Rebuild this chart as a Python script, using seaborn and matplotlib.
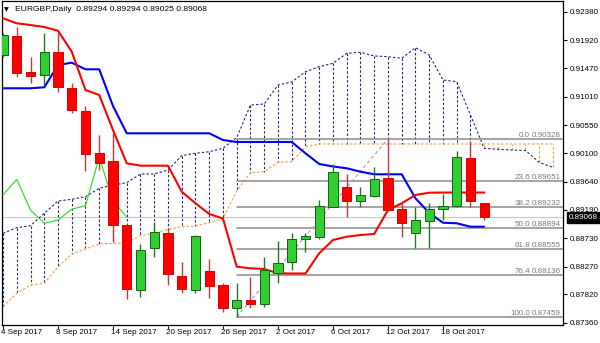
import numpy as np
import pandas as pd
import matplotlib
matplotlib.use("Agg")
import matplotlib.pyplot as plt
import seaborn as sns
from matplotlib.transforms import blended_transform_factory

# ---------------- data ----------------
tick_idx = [0, 4, 8, 12, 16, 20, 24, 28, 32]
tick_labels = ["4 Sep 2017", "8 Sep 2017", "14 Sep 2017", "20 Sep 2017", "26 Sep 2017",
               "2 Oct 2017", "6 Oct 2017", "12 Oct 2017", "18 Oct 2017"]

opens = [0.91682, 0.91988, 0.91412, 0.91359, 0.91725, 0.91154, 0.90784, 0.90097, 0.89972, 0.88940,
         0.87892, 0.88565, 0.88806, 0.88118, 0.87892, 0.88199, 0.87973, 0.87607, 0.87731, 0.87666,
         0.88161, 0.88348, 0.88719, 0.88742, 0.89235, 0.89558, 0.89327, 0.89408, 0.89693, 0.89194,
         0.88806, 0.89005, 0.89194, 0.89247, 0.90026, 0.89294]
highs = [0.92037, 0.92138, 0.91654, 0.92032, 0.92032, 0.91235, 0.90859, 0.90392, 0.90424, 0.88956,
         0.88629, 0.88994, 0.88887, 0.88339, 0.88779, 0.88387, 0.88000, 0.88000, 0.88097, 0.88429,
         0.88682, 0.88816, 0.88806, 0.89343, 0.89924, 0.89758, 0.89548, 0.89880, 0.90328, 0.89327,
         0.89226, 0.89300, 0.89440, 0.90139, 0.90300, 0.89294]
lows = [0.91650, 0.91322, 0.91225, 0.91198, 0.91090, 0.90751, 0.89816, 0.89827, 0.88671, 0.87742,
        0.87784, 0.88429, 0.87973, 0.87839, 0.87849, 0.87763, 0.87542, 0.87459, 0.87597, 0.87623,
        0.88010, 0.88215, 0.88500, 0.88715, 0.89226, 0.89064, 0.89235, 0.89387, 0.89171, 0.88752,
        0.88565, 0.88565, 0.89021, 0.89235, 0.89235, 0.89025]
closes = [0.92004, 0.91387, 0.91348, 0.91725, 0.91171, 0.90795, 0.90085, 0.89945, 0.88940, 0.87903,
          0.88537, 0.88823, 0.88145, 0.87903, 0.88763, 0.87961, 0.87607, 0.87731, 0.87666, 0.88215,
          0.88323, 0.88715, 0.88763, 0.89247, 0.89800, 0.89327, 0.89424, 0.89677, 0.89182, 0.88968,
          0.89021, 0.89194, 0.89252, 0.90032, 0.89327, 0.89068]

tenkan = [0.92274, 0.92193, 0.92165, 0.92133, 0.92074, 0.91735, 0.91117, 0.91037, 0.90472, 0.89935,
          0.89897, 0.89897, 0.89897, 0.89477, 0.89290, 0.89118, 0.89045, 0.88268, 0.88242, 0.88231,
          0.88161, 0.88158, 0.88158, 0.88484, 0.88698, 0.88752, 0.88779, 0.88795, 0.89182, 0.89290,
          0.89424, 0.89461, 0.89464, 0.89464, 0.89464, 0.89464]
kijun = [0.91145, 0.91145, 0.91145, 0.91161, 0.91520, 0.91558, 0.91451, 0.91451, 0.90859, 0.90419,
         0.90419, 0.90419, 0.90419, 0.90419, 0.90419, 0.90419, 0.90311, 0.90279, 0.90279, 0.90279,
         0.90279, 0.90279, 0.90097, 0.89924, 0.89884, 0.89855, 0.89800, 0.89758, 0.89758, 0.89758,
         0.89371, 0.89134, 0.88977, 0.88968, 0.88913, 0.88913]
span_a = [0.88806, 0.88897, 0.88929, 0.89129, 0.89327, 0.89355, 0.89397, 0.89532, 0.89585, 0.89622,
          0.89763, 0.89763, 0.89827, 0.90058, 0.90097, 0.90122, 0.90177, 0.90351, 0.90875, 0.90892,
          0.91198, 0.91246, 0.91412, 0.91493, 0.91548, 0.91709, 0.91725, 0.91666, 0.91654, 0.91629,
          0.91799, 0.91682, 0.91279, 0.91251, 0.90714, 0.90177, 0.90161, 0.90150, 0.90142, 0.89951,
          0.89868]
span_b = [0.87623, 0.87839, 0.87973, 0.88000, 0.88263, 0.88473, 0.88553, 0.88639, 0.88645, 0.88650,
          0.88771, 0.88811, 0.88868, 0.88913, 0.88924, 0.88977, 0.89045, 0.89489, 0.89784, 0.89800,
          0.89951, 0.89964, 0.90198, 0.90247, 0.90247, 0.90247, 0.90247, 0.90247, 0.90247, 0.90247,
          0.90247, 0.90247, 0.90247, 0.90247, 0.90247, 0.90247, 0.90247, 0.90247, 0.90247, 0.90247,
          0.90247]
chikou_shift = 26

fib_levels = ["0.0", "23.6", "38.2", "50.0", "61.8", "76.4", "100.0"]
fib_values = [0.90328, 0.89651, 0.89232, 0.88894, 0.88555, 0.88136, 0.87459]
fib_start = 17
trend_from = (17, 0.87459)
trend_to = (28, 0.90328)

y_ticks = [0.92380, 0.91920, 0.91470, 0.91010, 0.90550, 0.90100, 0.89640,
           0.89190, 0.88730, 0.88270, 0.87820, 0.87360]
title = "EURGBP,Daily  0.89294 0.89294 0.89025 0.89068"
last_price = 0.89068

# ---------------- style ----------------
sns.set_theme(style="white")
plt.rcParams["font.family"] = ["Liberation Sans", "DejaVu Sans"]
FS = 5.8

fig = plt.figure(figsize=(6.0, 3.43), dpi=100)
fig.patch.set_facecolor("white")
ax = fig.add_axes([2 / 600, 18 / 343, 561 / 600, 324 / 343])
ax.set_facecolor("white")

XMIN, XMAX = -0.073, 40.73
YMIN, YMAX = 0.873277, 0.925525
ax.set_xlim(XMIN, XMAX)
ax.set_ylim(YMIN, YMAX)

n = len(closes)
xc = np.arange(n)
xs = np.arange(len(span_a))

# current price line
ax.axhline(last_price, color="#c8c8c8", lw=0.8, zorder=1)

# cloud hatch (vertical dashed lines)
navy = "#262680"
orange = "#ff9a3c"
for i in xs:
    col = navy if span_a[i] > span_b[i] else orange
    ax.plot([i, i], [span_a[i], span_b[i]], color=col, lw=0.8,
            linestyle=(0, (2.2, 1.8)), zorder=2)

cloud = pd.DataFrame({"x": xs, "a": span_a, "b": span_b})
sns.lineplot(data=cloud, x="x", y="a", ax=ax, color=navy, lw=0.8,
             linestyle=(0, (2.2, 1.8)), zorder=2)
sns.lineplot(data=cloud, x="x", y="b", ax=ax, color=orange, lw=0.8,
             linestyle=(0, (2.2, 1.8)), zorder=2)

# fibonacci lines
for lvl, v in zip(fib_levels, fib_values):
    ax.plot([fib_start, XMAX], [v, v], color="#8c8c8c", lw=1.1, zorder=2)
    ax.text(38.33, v + 0.00035, lvl, fontsize=FS, color="#7a7a7a", ha="right",
            va="baseline", zorder=6)
    ax.text(40.58, v + 0.00035, f"{v:.5f}", fontsize=FS, color="#7a7a7a", ha="right",
            va="baseline", zorder=6)

# trend line
ax.plot([trend_from[0], trend_to[0]], [trend_from[1], trend_to[1]], color="#a0a0a0",
        lw=0.8, linestyle=(0, (3, 2.5)), zorder=2)

# indicator lines
ind = pd.DataFrame({"x": xc, "tenkan": tenkan, "kijun": kijun})
sns.lineplot(data=ind, x="x", y="kijun", ax=ax, color="#0000ff", lw=1.5, zorder=3)
sns.lineplot(data=ind, x="x", y="tenkan", ax=ax, color="#ff0000", lw=1.5, zorder=3)
chik = pd.DataFrame({"x": xc[: n - chikou_shift], "c": closes[chikou_shift:]})
sns.lineplot(data=chik, x="x", y="c", ax=ax, color="#33e033", lw=0.9, zorder=3)

# candles
for i in range(n):
    o, h, l, c = opens[i], highs[i], lows[i], closes[i]
    up = c >= o
    wick = "#1f7a1f" if up else "#c03a3a"
    fill = "#32cd32" if up else "#ff0000"
    edge = "#156015" if up else "#d40000"
    ax.plot([i, i], [l, h], color=wick, lw=1.0, zorder=4, solid_capstyle="butt")
    bot = min(o, c)
    hgt = max(abs(c - o), 0.00008)
    ax.bar(i, hgt, bottom=bot, width=0.66, color=fill, edgecolor=edge,
           linewidth=0.7, zorder=5)

# axes / ticks
for s in ax.spines.values():
    s.set_color("black")
    s.set_linewidth(0.9)
ax.yaxis.tick_right()
ax.set_yticks(y_ticks)
ax.set_yticklabels([f"{t:.5f}" for t in y_ticks])
ax.tick_params(axis="y", which="both", right=True, left=False, length=3, width=0.8,
               pad=2, labelsize=FS, colors="black", direction="out")
ax.set_xticks(tick_idx)
ax.set_xticklabels([""] * len(tick_idx))
ax.tick_params(axis="x", bottom=True, length=3, width=0.8, direction="out")
ax.set_xlabel("")
ax.set_ylabel("")
trans = blended_transform_factory(ax.transData, ax.transAxes)
for xi, lab in zip(tick_idx, tick_labels):
    ax.text(xi - 0.15, -0.013, lab, transform=trans, fontsize=FS, ha="left", va="top",
            color="black", clip_on=False)

# current price box
ax.text(1.011, last_price, "0.89068", transform=blended_transform_factory(ax.transAxes, ax.transData),
        fontsize=FS, color="white", ha="left", va="center", zorder=10, clip_on=False,
        bbox=dict(boxstyle="square,pad=0.25", facecolor="black", edgecolor="black"))

# title
fig.text(4 / 600, 1 - 9.5 / 343, "\u25BC", fontsize=4.5, color="black", ha="left", va="center",
         family="DejaVu Sans")
fig.text(15 / 600, 1 - 9.5 / 343, title, fontsize=FS + 0.3, color="black", ha="left", va="center")

fig.savefig("out.png", dpi=100, facecolor="white")
